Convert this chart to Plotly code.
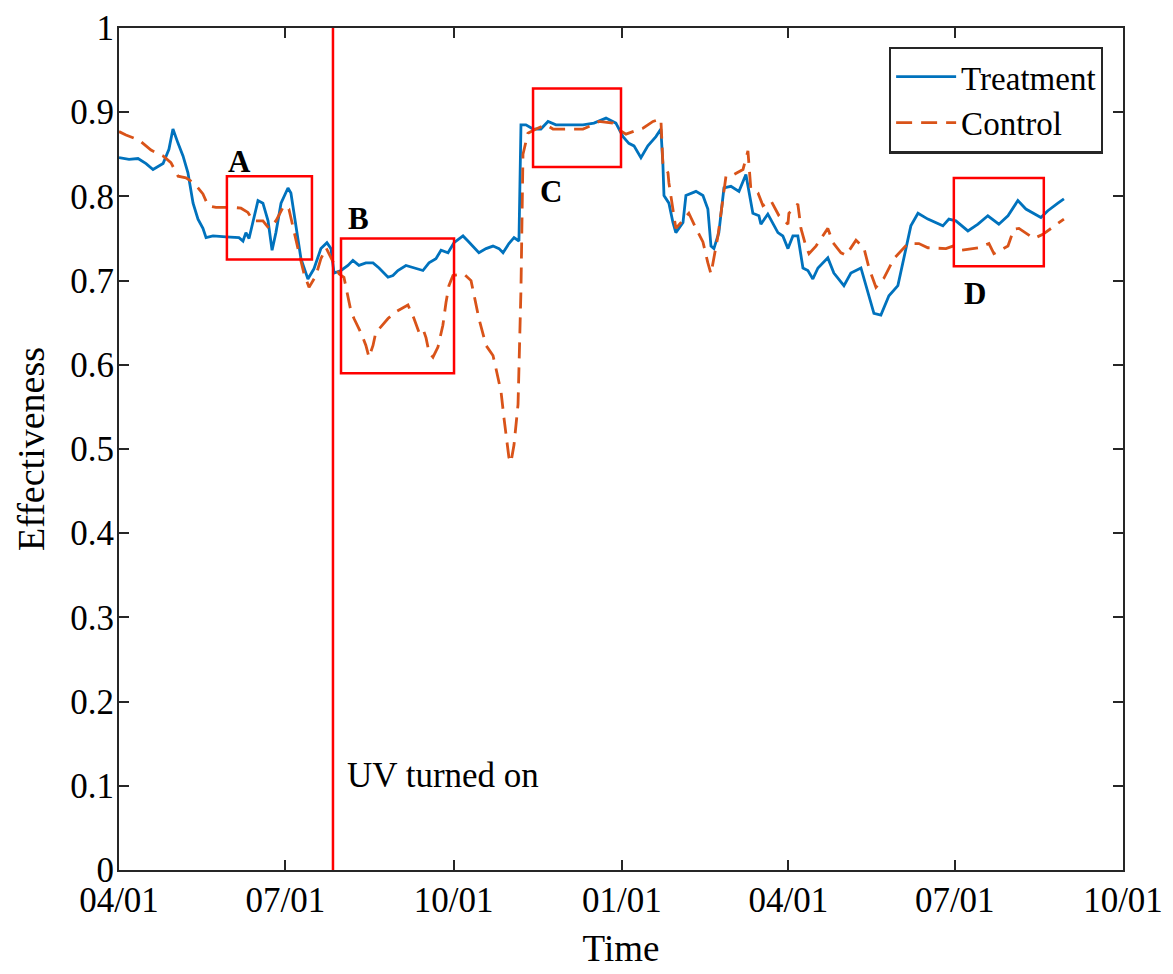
import pandas as pd
import plotly.graph_objects as go

START = "2019-04-01"

# Treatment (blue) : days since start, effectiveness
treat_days = [0, 5.5, 10.4, 14.8, 18.6, 24.1, 27.3, 29.5, 32.3, 35, 37.7, 40.5, 43.2, 45.9, 47.6,
              51.4, 58.5, 65.6, 67.8, 69.4, 71.1, 73.8, 76, 78.7, 81.5, 83.7, 85.8, 88.6, 92.4, 94,
              96.8, 99.5, 103.3, 106.6, 110.4, 113.7, 115.9, 117.6, 121.4, 125.2, 127.9, 131.2, 135,
              138.9, 142.2, 147.1, 149.8, 152.5, 156.9, 162.4, 166.2, 169.5, 173.3, 176.1, 179.9,
              183.2, 188.1, 190.8, 194.1, 196.8, 200.7, 204.5, 207.8, 210, 213.2, 216, 218.7, 219.8,
              222.5, 226.4, 230.7, 234.6, 238.9, 253.7, 259.7, 266.3, 271.7, 275.6, 278.8, 281.6,
              285.4, 289.2, 293.6, 296.3, 297.4, 298, 300.7, 302.9, 304.5, 308.4, 310, 315.5, 319.3,
              322, 323.7, 325.3, 328, 330.8, 334.6, 339, 342.8, 346.6, 349.9, 351, 354.8, 360.3, 363,
              365.8, 368.5, 371.2, 374, 376.7, 379.4, 382.2, 387.6, 390.9, 396.4, 400.2, 405.7, 409.5,
              412.8, 416.6, 421, 425.9, 429.2, 433, 436.9, 442.3, 450.5, 453.8, 457.6, 464.2, 469.7,
              475.1, 481.1, 486.1, 491.5, 495.9, 504.1, 507.9, 513.4, 516.7]
treat_vals = [0.846, 0.844, 0.845, 0.839, 0.832, 0.839, 0.856, 0.880, 0.863, 0.848, 0.828, 0.792, 0.773,
              0.762, 0.751, 0.753, 0.752, 0.751, 0.747, 0.757, 0.750, 0.777, 0.795, 0.792, 0.771, 0.736,
              0.757, 0.792, 0.810, 0.804, 0.765, 0.726, 0.702, 0.714, 0.738, 0.745, 0.738, 0.709, 0.712,
              0.718, 0.724, 0.718, 0.721, 0.721, 0.715, 0.704, 0.706, 0.712, 0.718, 0.714, 0.712, 0.721,
              0.726, 0.736, 0.733, 0.745, 0.753, 0.747, 0.739, 0.733, 0.738, 0.741, 0.738, 0.733, 0.744,
              0.751, 0.747, 0.885, 0.885, 0.880, 0.880, 0.889, 0.885, 0.885, 0.887, 0.893, 0.887, 0.871,
              0.863, 0.860, 0.846, 0.860, 0.871, 0.880, 0.839, 0.801, 0.792, 0.769, 0.757, 0.769, 0.801,
              0.806, 0.801, 0.785, 0.741, 0.738, 0.757, 0.810, 0.812, 0.806, 0.826, 0.780, 0.777, 0.767,
              0.779, 0.757, 0.753, 0.738, 0.753, 0.753, 0.715, 0.712, 0.702, 0.715, 0.727, 0.709, 0.694,
              0.709, 0.715, 0.686, 0.661, 0.659, 0.682, 0.694, 0.726, 0.765, 0.780, 0.773, 0.765, 0.773,
              0.771, 0.759, 0.767, 0.777, 0.767, 0.777, 0.795, 0.785, 0.775, 0.783, 0.792, 0.797]

# Control (orange)
ctrl_days = [0, 3.8, 10.9, 17.5, 24.1, 28.4, 32.3, 36.6, 41, 45.9, 48.7, 53, 62.3, 66.7, 70.5, 73.3,
             78.7, 82, 85.8, 90.2, 92.9, 95.7, 98.4, 101.1, 103.9, 107.7, 110.4, 113.2, 117, 120.3,
             123, 125.2, 126.9, 128.5, 132.3, 135, 136.7, 138.9, 140.5, 143.2, 147.1, 151.4, 158,
             161.3, 164, 166.2, 167.9, 169.5, 171.7, 174.4, 177.1, 178.8, 180.4, 182.6, 188.6, 192.5,
             194.1, 196.8, 200.7, 204.5, 206.1, 208.9, 210.5, 213.2, 214.3, 216, 218.2, 219.8, 220.9,
             223.6, 228, 233.5, 237.3, 244.4, 253.7, 259.2, 262.4, 270.1, 272.8, 277.2, 286.5, 292,
             296.3, 297.4, 300.2, 300.7, 304.5, 308.9, 311.6, 315.5, 319.3, 322, 323.7, 327.5, 329.1,
             331.9, 336.3, 341.2, 343.9, 345.5, 349.4, 352.1, 356.5, 360.9, 365.8, 366.3, 371.2,
             372.9, 375.6, 377.3, 381.1, 387.6, 390.4, 394.8, 397.5, 403, 407.3, 410.1, 413.9, 418.3,
             423.7, 431.4, 437.4, 442.3, 452.2, 456, 460.4, 470.2, 475.7, 478.4, 486.1, 489.3, 492.1,
             500.3, 505.2, 509.6, 516.7]
ctrl_vals = [0.877, 0.873, 0.867, 0.855, 0.848, 0.840, 0.824, 0.822, 0.816, 0.803, 0.789, 0.787, 0.787,
             0.786, 0.781, 0.771, 0.771, 0.762, 0.771, 0.789, 0.785, 0.757, 0.733, 0.709, 0.692, 0.706,
             0.726, 0.739, 0.722, 0.708, 0.704, 0.679, 0.663, 0.655, 0.638, 0.623, 0.609, 0.623, 0.639,
             0.645, 0.655, 0.663, 0.671, 0.655, 0.639, 0.643, 0.632, 0.615, 0.609, 0.621, 0.647, 0.674,
             0.694, 0.706, 0.708, 0.700, 0.682, 0.655, 0.623, 0.611, 0.596, 0.568, 0.537, 0.490, 0.484,
             0.505, 0.553, 0.690, 0.850, 0.875, 0.880, 0.885, 0.880, 0.880, 0.880, 0.885, 0.889, 0.887,
             0.880, 0.874, 0.881, 0.889, 0.892, 0.839, 0.828, 0.816, 0.762, 0.773, 0.780, 0.762, 0.746,
             0.721, 0.708, 0.753, 0.777, 0.824, 0.826, 0.832, 0.854, 0.809, 0.804, 0.789, 0.795, 0.777,
             0.767, 0.780, 0.791, 0.762, 0.741, 0.732, 0.741, 0.762, 0.745, 0.733, 0.730, 0.748, 0.739,
             0.715, 0.692, 0.703, 0.726, 0.744, 0.744, 0.739, 0.738, 0.741, 0.736, 0.739, 0.744, 0.732,
             0.741, 0.761, 0.762, 0.750, 0.755, 0.762, 0.773]

uv_on_day = 117
# highlight boxes: label, start day, end day, low value, high value
box_labels = ["A", "B", "C", "D"]
box_day0 = [59.0, 121.4, 226.4, 456.5]
box_day1 = [105.5, 183.2, 274.5, 505.7]
box_lo = [0.725, 0.590, 0.835, 0.717]
box_hi = [0.824, 0.750, 0.928, 0.822]
label_day = [66, 131, 236, 468]
label_val = [0.842, 0.774, 0.806, 0.685]

tick_dates = ["2019-04-01", "2019-07-01", "2019-10-01", "2020-01-01", "2020-04-01", "2020-07-01", "2020-10-01"]
tick_text = ["04/01", "07/01", "10/01", "01/01", "04/01", "07/01", "10/01"]

t0 = pd.Timestamp(START)
def to_date(d):
    return t0 + pd.to_timedelta(d, unit="D")

FONT = "Liberation Serif, Times New Roman, serif"

fig = go.Figure()
fig.add_trace(go.Scatter(x=[to_date(d) for d in treat_days], y=treat_vals, mode="lines",
                         name="Treatment", line=dict(color="#0072BD", width=2.8)))
fig.add_trace(go.Scatter(x=[to_date(d) for d in ctrl_days], y=ctrl_vals, mode="lines",
                         name="Control", line=dict(color="#D95319", width=2.8, dash="16px,9px")))

uv = to_date(uv_on_day)
fig.add_shape(type="line", x0=uv, x1=uv, y0=0, y1=1, xref="x", yref="y",
              line=dict(color="#FF0000", width=2.5))
fig.add_annotation(x=uv, y=0.112, xref="x", yref="y", text="UV turned on", showarrow=False,
                   xanchor="left", xshift=12, font=dict(family=FONT, size=35, color="black"))

for lab, a, b, lo, hi, ld, lv in zip(box_labels, box_day0, box_day1, box_lo, box_hi, label_day, label_val):
    fig.add_shape(type="rect", x0=to_date(a), x1=to_date(b), y0=lo, y1=hi, xref="x", yref="y",
                  line=dict(color="#FF0000", width=2.5))
    fig.add_annotation(x=to_date(ld), y=lv, xref="x", yref="y", text="<b>%s</b>" % lab,
                       showarrow=False, font=dict(family=FONT, size=31, color="black"))

axis_common = dict(showline=True, linecolor="#262626", linewidth=2.2, mirror="ticks",
                   ticks="inside", ticklen=10, tickwidth=1.6, tickcolor="#262626",
                   showgrid=False, zeroline=False, automargin=False, ticklabeloverflow="allow",
                   tickfont=dict(family=FONT, size=35, color="black"))

fig.update_layout(
    width=1173, height=974,
    margin=dict(l=111, r=58, t=20, b=112),
    paper_bgcolor="white", plot_bgcolor="white",
    showlegend=True,
    legend=dict(x=0.980, y=0.978, xanchor="right", yanchor="top",
                bordercolor="#262626", borderwidth=2.2, bgcolor="white",
                font=dict(family=FONT, size=33, color="black"),
                tracegroupgap=0, itemwidth=60),
    xaxis=dict(range=[t0, pd.Timestamp("2020-10-01")], tickvals=[pd.Timestamp(t) for t in tick_dates],
               ticktext=tick_text, ticklabelstandoff=-2,
               title=dict(text="Time", font=dict(family=FONT, size=37, color="black"), standoff=16),
               **axis_common),
    yaxis=dict(range=[0, 1], tickvals=[0, 0.1, 0.2, 0.3, 0.4, 0.5, 0.6, 0.7, 0.8, 0.9, 1],
               ticktext=["0", "0.1", "0.2", "0.3", "0.4", "0.5", "0.6", "0.7", "0.8", "0.9", "1"],
               ticklabelstandoff=-4,
               title=dict(text="Effectiveness", font=dict(family=FONT, size=38, color="black"), standoff=14),
               **axis_common),
)

fig.write_html("out.html")
